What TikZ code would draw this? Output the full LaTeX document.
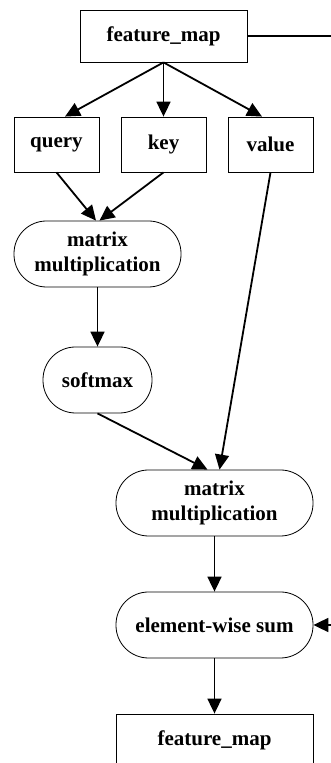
\documentclass[tikz,border=0pt]{standalone}
\usepackage{fontspec}
\setmainfont{Liberation Serif}
\usetikzlibrary{arrows.meta,calc}
\begin{document}
\begin{tikzpicture}[x=1pt,y=1pt,
  lbl/.style={font=\fontsize{21}{25}\selectfont\bfseries, align=center, inner sep=0pt},
  box/.style={lbl, draw, line width=0.8pt, minimum height=52pt},
  stadium/.style={lbl, draw, line width=0.8pt, rounded corners=32.5pt, minimum height=66pt},
  arr/.style={line width=1.8pt, -{Triangle[length=15pt,width=14pt]}},
  ln/.style={line width=1.8pt}]
\useasboundingbox (0,0) rectangle (331,763);
\clip (0,0) rectangle (331,763);
\node[box, minimum width=167pt] (fm1) at (163.5,727) {feature\_map};
\node[box, minimum width=85pt, minimum height=55pt] (q) at (56.5,618.5) {query};
\node[box, minimum width=85pt, minimum height=55pt] (k) at (163.5,618.5) {key};
\node[box, minimum width=85pt, minimum height=55pt] (v) at (270.5,618.5) {value};
\node[stadium, minimum width=167pt] (mm1) at (97.5,509) {matrix\\multiplication};
\node[stadium, minimum width=109pt] (sm) at (97.5,383) {softmax};
\node[stadium, minimum width=197pt] (mm2) at (214.5,260) {matrix\\multiplication};
\node[stadium, minimum width=197pt] (ews) at (214.5,138) {element-wise sum};
\node[box, minimum width=197pt] (fm2) at (214.5,23) {feature\_map};
\coordinate (rtop) at (331,727);
\coordinate (rbot) at (331,138);
\draw[arr] (fm1.south) -- ($(q.north)+(8.5,0)$);
\draw[arr] (fm1.south) -- (k.north);
\draw[arr] (fm1.south) -- ($(v.north)+(-8.5,0)$);
\draw[arr] (q.south) -- ($(mm1.north)+(-1.5,0)$);
\draw[arr] (k.south) -- ($(mm1.north)+(2,0)$);
\draw[arr] (mm1.south) -- (sm.north);
\draw[arr] (sm.south) -- ($(mm2.north)+(-7,0)$);
\draw[arr] (v.south) -- ($(mm2.north)+(5,0)$);
\draw[arr] (mm2.south) -- (ews.north);
\draw[arr] (ews.south) -- (fm2.north);
\draw[ln] (fm1.east) -- (rtop);
\draw[arr] (rbot) -- (ews.east);
\end{tikzpicture}
\end{document}
